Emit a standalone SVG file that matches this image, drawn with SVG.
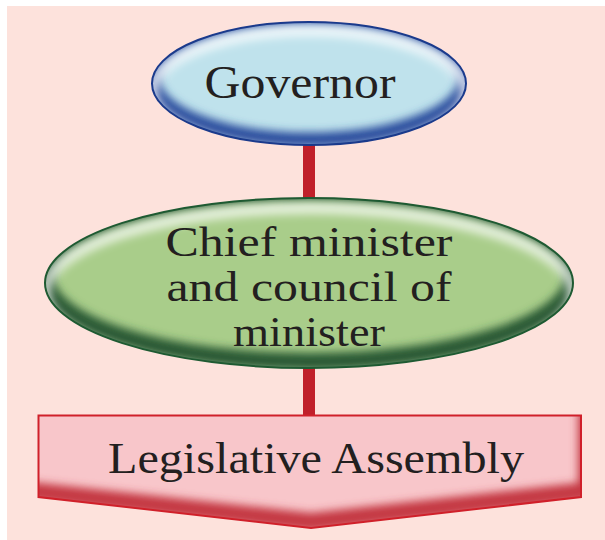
<svg xmlns="http://www.w3.org/2000/svg" width="605" height="540" viewBox="0 0 605 540">
<defs>
<style>
.lbl{font-family:"Liberation Serif","Times New Roman",serif;fill:#231F20;text-anchor:middle}
.conn{fill:#C0202A}
</style>
<filter id="blur" x="-10%" y="-20%" width="120%" height="140%"><feGaussianBlur stdDeviation="4"/></filter>
<clipPath id="cGov"><ellipse cx="309" cy="83.5" rx="157" ry="61.5"/></clipPath>
<clipPath id="cChief"><ellipse cx="309" cy="283" rx="264" ry="85"/></clipPath>
<clipPath id="cLeg"><path d="M38.5,415.5 L581,415.5 L581,497 L311,528 L38.5,497 Z"/></clipPath>
</defs>
<rect x="0" y="0" width="605" height="540" fill="#FFFFFF"/>
<rect x="7" y="6" width="598" height="534" fill="#FDE2DC"/>
<g id="connectors">
<rect class="conn" x="303" y="140" width="12" height="62"/>
<rect class="conn" x="303" y="362" width="12" height="56"/>
</g>
<g id="governor">
<ellipse cx="309" cy="83.5" rx="157" ry="61.5" fill="#BFE2EC"/>
<g clip-path="url(#cGov)">
<ellipse cx="309" cy="79" rx="157" ry="61.5" fill="none" stroke="#2A4E9E" stroke-width="16" filter="url(#blur)"/>
<ellipse cx="309" cy="92" rx="157" ry="61.5" fill="none" stroke="#FFFFFF" stroke-opacity="0.75" stroke-width="12" filter="url(#blur)"/>
</g>
<ellipse cx="309" cy="83.5" rx="157" ry="61.5" fill="none" stroke="#1A3A8C" stroke-width="2"/>
<text class="lbl" x="300" y="98" font-size="46" textLength="191" lengthAdjust="spacingAndGlyphs">Governor</text>
</g>
<g id="chief">
<ellipse cx="309" cy="283" rx="264" ry="85" fill="#A9CD8A"/>
<g clip-path="url(#cChief)">
<ellipse cx="309" cy="277" rx="264" ry="85" fill="none" stroke="#2B5A36" stroke-width="18" filter="url(#blur)"/>
<ellipse cx="309" cy="293" rx="264" ry="85" fill="none" stroke="#FFFFFF" stroke-opacity="0.7" stroke-width="12" filter="url(#blur)"/>
</g>
<ellipse cx="309" cy="283" rx="264" ry="85" fill="none" stroke="#1E5A32" stroke-width="2"/>
<text class="lbl" font-size="43"><tspan x="309" y="256" textLength="287" lengthAdjust="spacingAndGlyphs">Chief minister</tspan></text>
<text class="lbl" font-size="43"><tspan x="309" y="301" textLength="285" lengthAdjust="spacingAndGlyphs">and council of</tspan></text>
<text class="lbl" font-size="43"><tspan x="309" y="346" textLength="152" lengthAdjust="spacingAndGlyphs">minister</tspan></text>
</g>
<g id="legislative">
<path d="M38.5,415.5 L581,415.5 L581,497 L311,528 L38.5,497 Z" fill="#F8C6CA"/>
<g clip-path="url(#cLeg)">
<path d="M30,491 L311,522 L587,491 L587,410" fill="none" stroke="#C43842" stroke-width="18" filter="url(#blur)"/>
<path d="M30,420 L590,420" fill="none" stroke="#FFFFFF" stroke-opacity="0.6" stroke-width="10" filter="url(#blur)"/>
</g>
<path d="M38.5,415.5 L581,415.5 L581,497 L311,528 L38.5,497 Z" fill="none" stroke="#D0202A" stroke-width="2"/>
<text class="lbl" x="316" y="473" font-size="44" textLength="416" lengthAdjust="spacingAndGlyphs">Legislative Assembly</text>
</g>
</svg>
